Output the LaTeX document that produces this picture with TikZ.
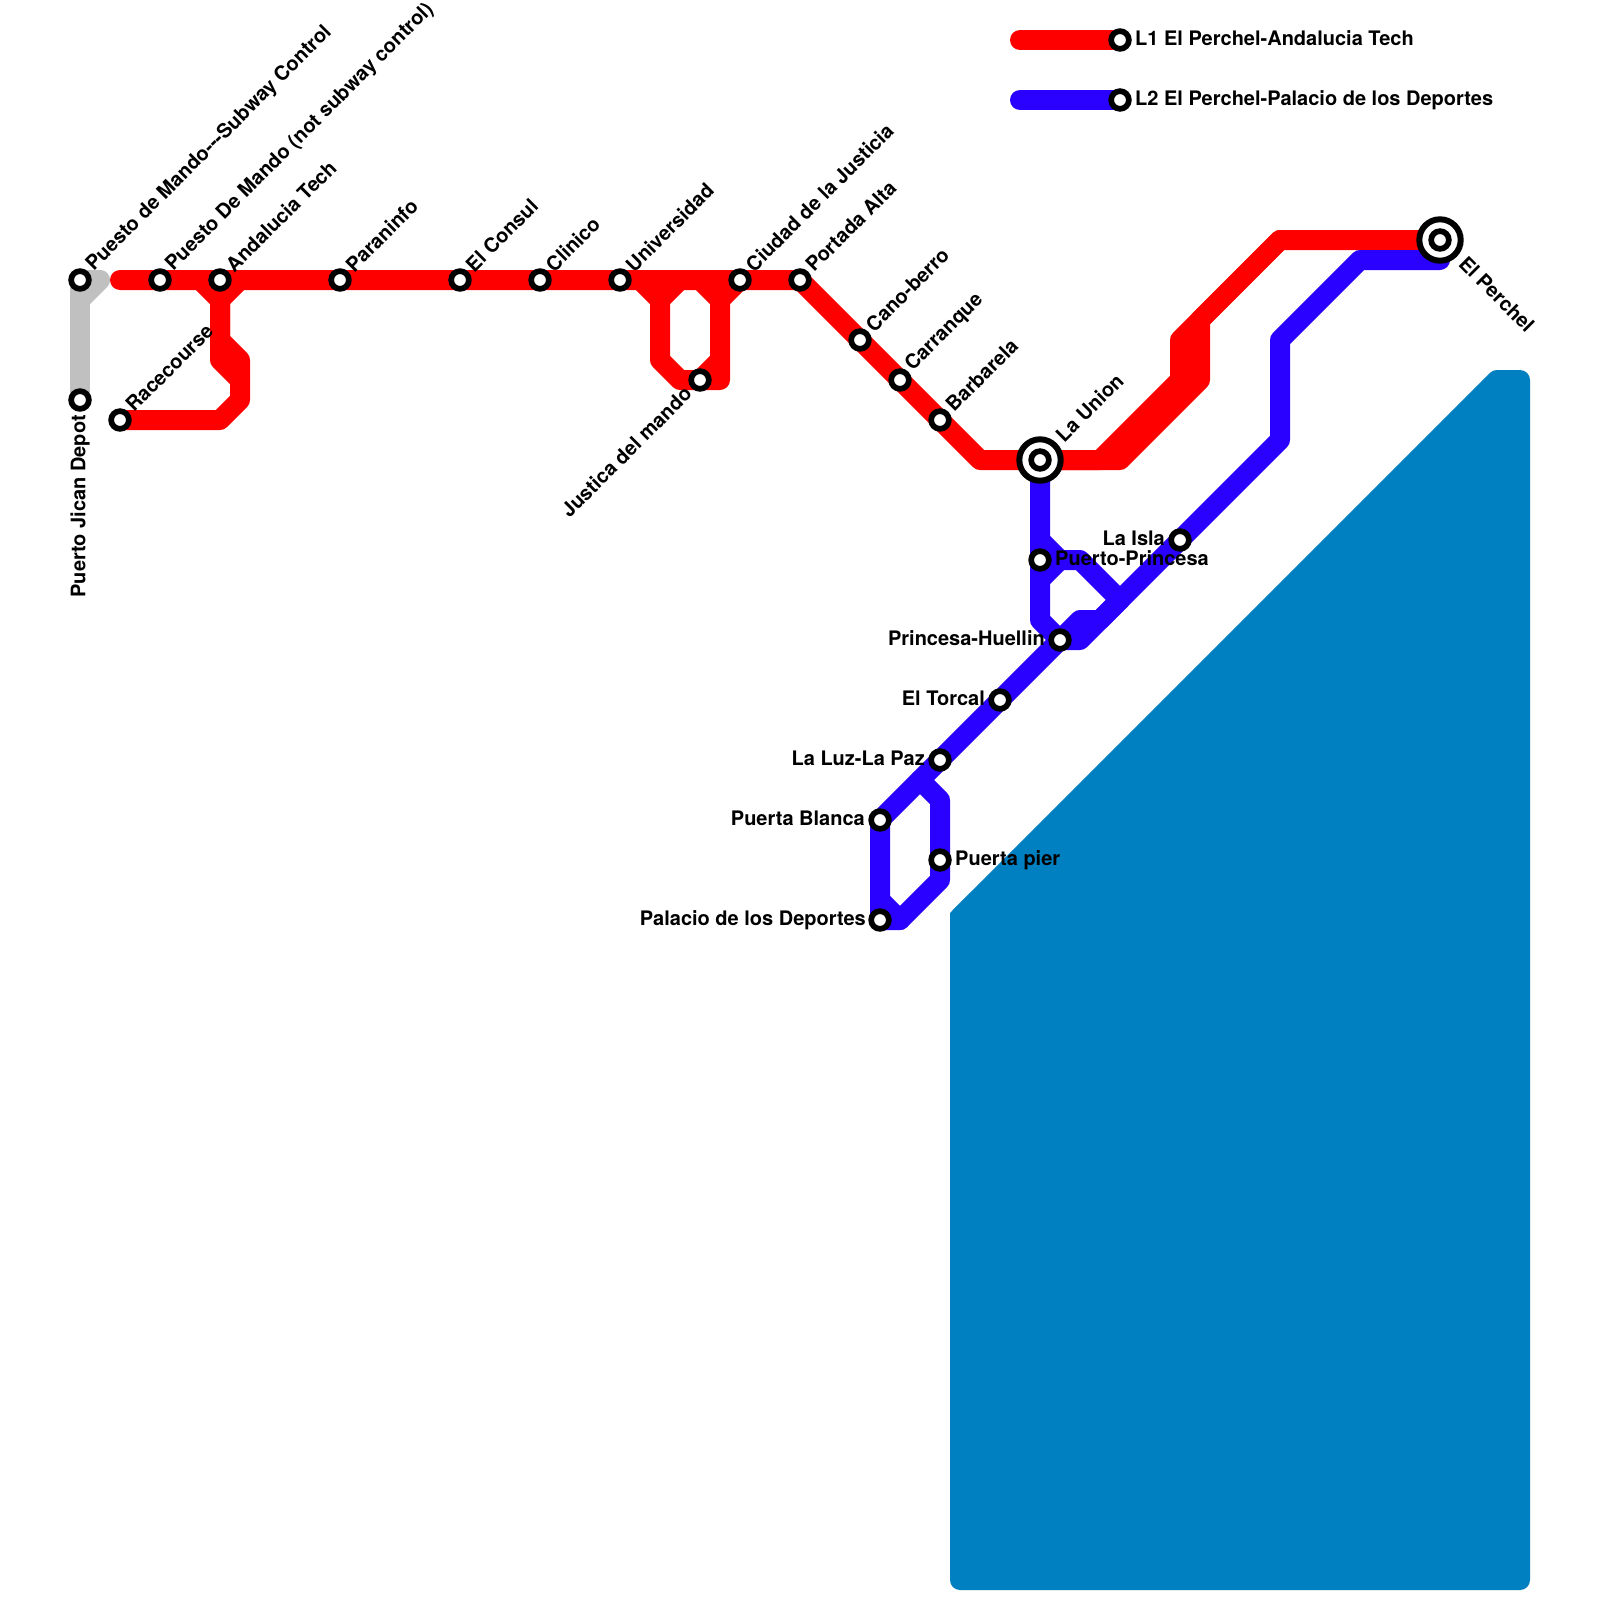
\documentclass[tikz,border=0pt]{standalone}
\usepackage{fontspec}
\setmainfont{TeX Gyre Heros}
\usetikzlibrary{backgrounds}
\definecolor{redline}{HTML}{FF0000}
\definecolor{blueline}{HTML}{2A00FF}
\definecolor{greyline}{HTML}{C0C0C0}
\definecolor{water}{HTML}{0080C0}
\tikzset{
  line/.style={line width=20pt,line join=round,line cap=round},
  redl/.style={line,draw=redline},
  bluel/.style={line,draw=blueline},
  greyl/.style={line,draw=greyline},
  stn/.style={circle,draw=black,fill=white,line width=5.7pt,minimum size=17.7pt,inner sep=0pt},
  hub/.style={circle,draw=black,fill=white,line width=6pt,minimum size=41.4pt,inner sep=0pt},
  lbl/.style={font=\bfseries\fontsize{20pt}{22pt}\selectfont,inner sep=0pt,text=black},
  ne/.style={lbl,anchor=west,rotate=45},
  e/.style={lbl,anchor=west},
  w/.style={lbl,anchor=east},
  sw/.style={lbl,anchor=east,rotate=45},
  se/.style={lbl,anchor=west,rotate=-45},
  up/.style={lbl,anchor=east,rotate=90},
}
\begin{document}
\begin{tikzpicture}[x=1pt,y=-1pt]
\useasboundingbox (0,0) rectangle (1600,1600);
% stations
\node[stn] (jican) at (80,400) {};
\node[stn] (mando) at (80,280) {};
\node[stn] (mando2) at (160,280) {};
\node[stn] (andal) at (220,280) {};
\node[stn] (race) at (120,420) {};
\node[stn] (paran) at (340,280) {};
\node[stn] (consul) at (460,280) {};
\node[stn] (clinico) at (540,280) {};
\node[stn] (univ) at (620,280) {};
\node[stn] (justica) at (700,380) {};
\node[stn] (ciudad) at (740,280) {};
\node[stn] (portada) at (800,280) {};
\node[stn] (cano) at (860,340) {};
\node[stn] (carr) at (900,380) {};
\node[stn] (barb) at (940,420) {};
\node[hub] (unionhub) at (1040,460) {};
\node[stn] (union) at (1040,460) {};
\node[hub] (perchelhub) at (1440,240) {};
\node[stn] (perchel) at (1440,240) {};
\node[stn] (isla) at (1180,540) {};
\node[stn] (princ) at (1040,560) {};
\node[stn] (huellin) at (1060,640) {};
\node[stn] (torcal) at (1000,700) {};
\node[stn] (luz) at (940,760) {};
\node[stn] (blanca) at (880,820) {};
\node[stn] (pier) at (940,860) {};
\node[stn] (palacio) at (880,920) {};
\node[stn] (leg1) at (1120,40) {};
\node[stn] (leg2) at (1120,100) {};
% free ends and junctions
\coordinate (redstart) at (120,280);
\coordinate (leg1s) at (1020,40);
\coordinate (leg2s) at (1020,100);
\coordinate (j200) at (200,280);
\coordinate (j240) at (240,280);
\coordinate (j640) at (640,280);
\coordinate (j680) at (680,280);
\coordinate (j700) at (700,280);
\coordinate (j220) at (220,300);
\coordinate (j240b) at (240,380);
\coordinate (j1280) at (1280,240);
\coordinate (j1120) at (1120,460);
\coordinate (j1100) at (1060,460);
\coordinate (jb1) at (1040,540);
\coordinate (jb2) at (1120,600);
\coordinate (jb3) at (1080,620);
\coordinate (jb4) at (920,780);
\begin{scope}[on background layer]
  \fill[white] (0,0) rectangle (1600,1600);
  \filldraw[water,draw=water,line width=20pt,line join=round] (960,917) -- (1497,380) -- (1520,380) -- (1520,1580) -- (960,1580) -- cycle;
  \fill[water] (950,913) -- (970,893) -- (970,940) -- (950,940) -- cycle;
  % grey
  \draw[greyl] (jican.center) -- (mando.center);
  \draw[greyl] (80,300) -- (100,280) -- (mando.center);
  % red
  \draw[redl] (redstart) -- (portada.center) -- (980,460) -- (j1120) -- (1200,380) -- (1200,320) -- (j1280) -- (perchel.center);
  \draw[redl] (j1100) -- (1100,460) -- (1180,380) -- (1180,340) -- (j1280);
  \draw[redl] (j200) -- (j220) -- (j240);
  \draw[redl] (j220) -- (220,340) -- (240,360) -- (j240b) -- (240,400) -- (220,420) -- (race.center);
  \draw[redl] (j220) -- (220,360) -- (j240b);
  \draw[redl] (j640) -- (660,300) -- (660,360) -- (680,380) -- (justica.center);
  \draw[redl] (j680) -- (660,300);
  \draw[redl] (j700) -- (720,300) -- (720,360) -- (justica.center) -- (720,380) -- (720,360);
  \draw[redl] (ciudad.center) -- (720,300);
  % blue
  \draw[bluel] (union.center) -- (princ.center) -- (1040,620) -- (huellin.center);
  \draw[bluel] (jb1) -- (1060,560) -- (1080,560) -- (jb2);
  \draw[bluel] (princ.center) -- (1040,580) -- (1060,560);
  \draw[bluel] (perchel.center) -- (1440,260) -- (1360,260) -- (1280,340) -- (1280,440) -- (isla.center) -- (1080,640) -- (huellin.center);
  \draw[bluel] (blanca.center) -- (luz.center) -- (torcal.center) -- (huellin.center) -- (jb3) -- (1100,620) -- (jb2);
  \draw[bluel] (blanca.center) -- (palacio.center) -- (900,920) -- (940,880) -- (pier.center) -- (940,800) -- (jb4);
  \draw[bluel] (880,900) -- (900,920);
  \draw[redl] (leg1s) -- (leg1.center);
  \draw[bluel] (leg2s) -- (leg2.center);
\end{scope}
% labels
\node[ne] (t1) at ([shift={(10,-12)}]mando) {Puesto de Mando{-}{-}{-}Subway Control};
\node[ne] (t2) at ([shift={(9.5,-12)}]mando2) {Puesto De Mando (not subway control)};
\node[ne] (t3) at ([shift={(9,-12)}]andal) {Andalucia Tech};
\node[ne] (t4) at ([shift={(9,-12)}]race) {Racecourse};
\node[ne] (t5) at ([shift={(9,-12)}]paran) {Paraninfo};
\node[ne] (t6) at ([shift={(9,-12)}]consul) {El Consul};
\node[ne] (t7) at ([shift={(9,-12)}]clinico) {Clinico};
\node[ne] (t8) at ([shift={(9,-12)}]univ) {Universidad};
\node[ne] (t9) at ([shift={(9,-12)}]ciudad) {Ciudad de la Justicia};
\node[ne] (t10) at ([shift={(9,-12)}]portada) {Portada Alta};
\node[ne] (t11) at ([shift={(9,-12)}]cano) {Cano-berro};
\node[ne] (t12) at ([shift={(9,-12)}]carr) {Carranque};
\node[ne] (t13) at ([shift={(9,-12)}]barb) {Barbarela};
\node[ne] (t14) at ([shift={(19,-22)}]union) {La Union};
\node[se] (t15) at ([shift={(22.5,20)}]perchel) {El Perchel};
\node[sw] (t16) at ([shift={(-12,10)}]justica) {Justica del mando};
\node[up] (t17) at ([shift={(0,15)}]jican) {Puerto Jican Depot};
\node[e] (t18) at ([shift={(15,-2)}]princ) {Puerto-Princesa};
\node[w] (t19) at ([shift={(-15,-2)}]isla) {La Isla};
\node[w] (t20) at ([shift={(-15,-2)}]huellin) {Princesa-Huellin};
\node[w] (t21) at ([shift={(-15,-2)}]torcal) {El Torcal};
\node[w] (t22) at ([shift={(-15,-2)}]luz) {La Luz-La Paz};
\node[w] (t23) at ([shift={(-15,-2)}]blanca) {Puerta Blanca};
\node[e] (t24) at ([shift={(15,0)}]pier) {Puerta pier};
\node[w] (t25) at ([shift={(-14,0)}]palacio) {Palacio de los Deportes};
\node[e] (t26) at ([shift={(15,-2)}]leg1) {L1 El Perchel-Andalucia Tech};
\node[e] (t27) at ([shift={(15,0)}]leg2) {L2 El Perchel-Palacio de los Deportes};
\end{tikzpicture}
\end{document}
